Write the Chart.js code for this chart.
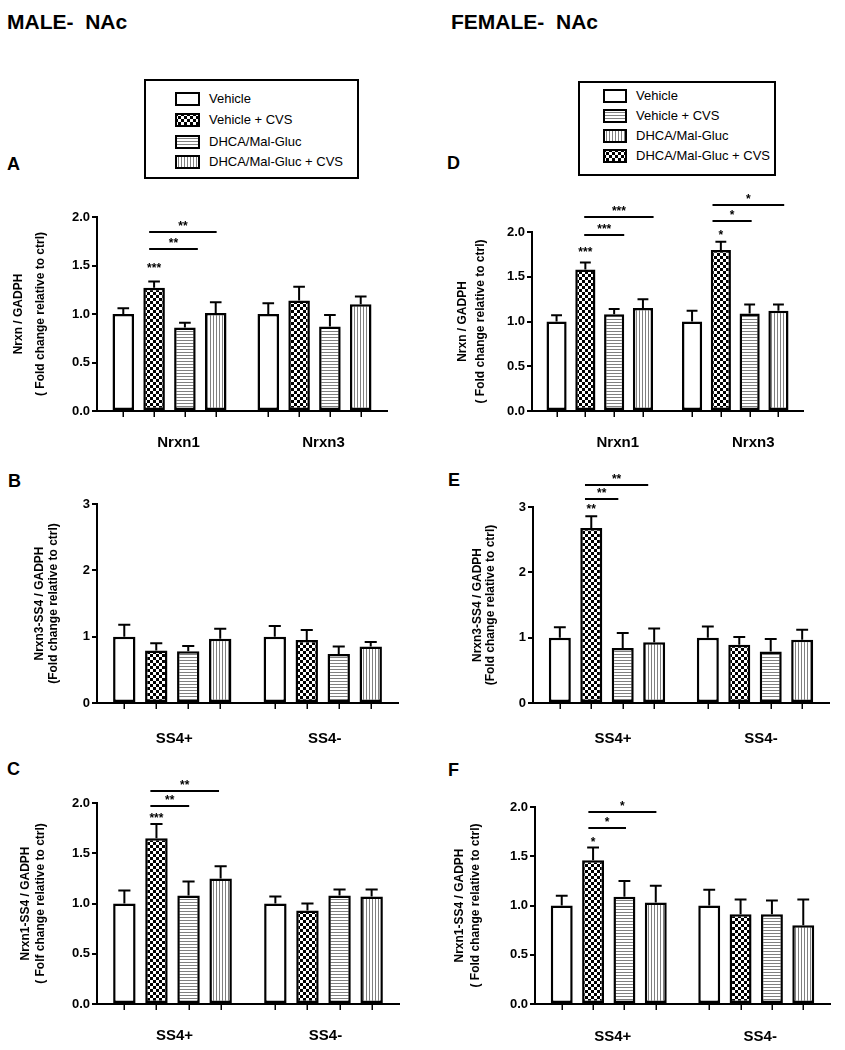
<!DOCTYPE html>
<html>
<head>
<meta charset="utf-8">
<script src="https://cdn.jsdelivr.net/npm/chart.js@4.4.1/dist/chart.umd.min.js"></script>
<style>
  body { margin: 0; background: #fff; width: 845px; height: 1050px; position: relative; overflow: hidden;
         font-family: 'Liberation Sans', Arial, sans-serif; color: #000; }
  .abs { position: absolute; }
  .head { font-weight: bold; font-size: 21px; line-height: 21px; white-space: pre; }
  .letter { font-weight: bold; font-size: 18px; line-height: 18px; }
  .legbox { border: 2px solid #000; box-sizing: border-box; }
  .legtxt { font-size: 13px; line-height: 14px; white-space: nowrap; }
  canvas.panel { position: absolute; }
</style>
</head>
<body>

<div class="abs head" style="left:7px;top:11px">MALE-  NAc</div>
<div class="abs head" style="left:451px;top:11px">FEMALE-  NAc</div>

<div class="abs letter" style="left:7px;top:155px">A</div>
<div class="abs letter" style="left:8px;top:472px">B</div>
<div class="abs letter" style="left:7px;top:760px">C</div>
<div class="abs letter" style="left:447px;top:154px">D</div>
<div class="abs letter" style="left:448px;top:471px">E</div>
<div class="abs letter" style="left:448px;top:761px">F</div>

<div class="abs legbox" style="left:144px;top:79px;width:215px;height:100px"></div>
<div class="abs legbox" style="left:578px;top:81px;width:198px;height:95px"></div>

<script>
'use strict';

// ---- data ----
const treatments = ['Vehicle', 'Vehicle + CVS', 'DHCA/Mal-Gluc', 'DHCA/Mal-Gluc + CVS'];
const geneLabels = ['Nrxn1', 'Nrxn3'];
const spliceLabels = ['SS4+', 'SS4-'];

// means and SEM, ordered: first category (4 treatments), then second category
const maleNrxnMean = [1.00, 1.27, 0.86, 1.01, 1.00, 1.14, 0.87, 1.10];
const maleNrxnSem  = [0.06, 0.065, 0.05, 0.11, 0.11, 0.14, 0.12, 0.08];
const maleSs4n3Mean = [1.00, 0.79, 0.78, 0.97, 1.00, 0.95, 0.74, 0.85];
const maleSs4n3Sem  = [0.18, 0.11, 0.08, 0.15, 0.16, 0.15, 0.11, 0.07];
const maleSs4n1Mean = [1.00, 1.65, 1.08, 1.25, 1.00, 0.93, 1.08, 1.07];
const maleSs4n1Sem  = [0.13, 0.14, 0.14, 0.12, 0.07, 0.07, 0.06, 0.07];
const femaleNrxnMean = [1.00, 1.58, 1.08, 1.15, 1.00, 1.80, 1.09, 1.12];
const femaleNrxnSem  = [0.07, 0.08, 0.06, 0.10, 0.12, 0.09, 0.10, 0.07];
const femaleSs4n3Mean = [1.00, 2.68, 0.84, 0.93, 1.00, 0.89, 0.79, 0.97];
const femaleSs4n3Sem  = [0.16, 0.18, 0.23, 0.21, 0.17, 0.12, 0.19, 0.15];
const femaleSs4n1Mean = [1.00, 1.46, 1.09, 1.03, 1.00, 0.91, 0.91, 0.80];
const femaleSs4n1Sem  = [0.10, 0.13, 0.16, 0.17, 0.16, 0.15, 0.14, 0.26];

const foldTicks = [0, 0.5, 1.0, 1.5, 2.0];
const wideTicks = [0, 1, 2, 3];

// significance bars: group, from/to in bar slots within the group, y value, label
const maleNrxnBrackets = [
  { group: 0, from: 0.84, to: 3.03, y: 1.845, text: '**' },
  { group: 0, from: 0.84, to: 2.42, y: 1.672, text: '**' },
];
const maleNrxnStars = [{ group: 0, bar: 1, y: 1.507, text: '***' }];
const maleSs4n1Brackets = [
  { group: 0, from: 0.81, to: 2.95, y: 2.12, text: '**' },
  { group: 0, from: 0.81, to: 2.02, y: 1.973, text: '**' },
];
const maleSs4n1Stars = [{ group: 0, bar: 1, y: 1.877, text: '***' }];
const femaleNrxnBrackets = [
  { group: 0, from: 0.96, to: 3.37, y: 2.164, text: '***' },
  { group: 0, from: 0.96, to: 2.35, y: 1.963, text: '***' },
  { group: 1, from: 0.71, to: 3.2, y: 2.303, text: '*' },
  { group: 1, from: 0.71, to: 2.07, y: 2.12, text: '*' },
];
const femaleNrxnStars = [
  { group: 0, bar: 1, y: 1.81, text: '***' },
  { group: 1, bar: 1, y: 2.0, text: '*' },
];
const femaleSs4n3Brackets = [
  { group: 0, from: 0.8, to: 2.81, y: 3.34, text: '**' },
  { group: 0, from: 0.8, to: 1.86, y: 3.116, text: '**' },
];
const femaleSs4n3Stars = [{ group: 0, bar: 1, y: 3.01, text: '**' }];
const femaleSs4n1Brackets = [
  { group: 0, from: 0.85, to: 3.02, y: 1.953, text: '*' },
  { group: 0, from: 0.85, to: 2.05, y: 1.787, text: '*' },
];
const femaleSs4n1Stars = [{ group: 0, bar: 1, y: 1.68, text: '*' }];

// ---- fills ----
function makePattern(kind) {
  const c = document.createElement('canvas');
  const g = c.getContext('2d');
  if (kind === 'checker') {
    c.width = 6; c.height = 6;
    g.fillStyle = '#fff'; g.fillRect(0, 0, 6, 6);
    g.fillStyle = '#000'; g.fillRect(0, 0, 3, 3); g.fillRect(3, 3, 3, 3);
  } else if (kind === 'horiz') {
    c.width = 4; c.height = 3;
    g.fillStyle = '#fff'; g.fillRect(0, 0, 4, 3);
    g.fillStyle = '#808080'; g.fillRect(0, 0, 4, 1);
  } else if (kind === 'vert') {
    c.width = 3; c.height = 4;
    g.fillStyle = '#fff'; g.fillRect(0, 0, 3, 4);
    g.fillStyle = '#808080'; g.fillRect(0, 0, 1, 4);
  } else {
    c.width = 2; c.height = 2;
    g.fillStyle = '#fff'; g.fillRect(0, 0, 2, 2);
  }
  return g.createPattern(c, 'repeat');
}

const barKinds = ['plain', 'checker', 'horiz', 'vert'];
const maleLegendKinds = ['plain', 'checker', 'horiz', 'vert'];
const femaleLegendKinds = ['plain', 'horiz', 'vert', 'checker'];

// ---- legends ----
function addLegend(kinds, swX, swW, txtX, rowsY) {
  treatments.forEach((name, i) => {
    const sw = document.createElement('canvas');
    sw.width = swW; sw.height = 14;
    sw.className = 'abs';
    sw.style.left = swX + 'px';
    sw.style.top = Math.round(rowsY[i] - 7) + 'px';
    const g = sw.getContext('2d');
    g.fillStyle = makePattern(kinds[i]);
    g.fillRect(0, 0, swW, 14);
    g.lineWidth = 2;
    g.strokeStyle = '#000';
    g.strokeRect(1, 1, swW - 2, 12);
    document.body.appendChild(sw);

    const t = document.createElement('div');
    t.className = 'abs legtxt';
    t.style.left = txtX + 'px';
    t.style.top = Math.round(rowsY[i] - 7) + 'px';
    t.textContent = name;
    document.body.appendChild(t);
  });
}
addLegend(maleLegendKinds, 175, 25, 209, [98.7, 120, 142.3, 162.3]);
addLegend(femaleLegendKinds, 603, 24, 636, [95.7, 115.7, 135.7, 156]);

// ---- overlay: error bars, tick marks under bars, significance marks ----
function overlayPlugin(sem, brackets, stars) {
  function barX(chart, group, pos) {
    const c0 = chart.getDatasetMeta(0).data[group].x;
    const c1 = chart.getDatasetMeta(1).data[group].x;
    return c0 + pos * (c1 - c0);
  }
  return {
    id: 'overlay',
    afterDatasetsDraw(chart) {
      const ctx = chart.ctx;
      const y = chart.scales.y;
      ctx.save();
      ctx.strokeStyle = '#000';
      ctx.lineWidth = 2;
      chart.data.datasets.forEach((ds, k) => {
        chart.getDatasetMeta(k).data.forEach((bar, g) => {
          const v = ds.data[g];
          const top = y.getPixelForValue(v + sem[g * 4 + k]);
          const half = bar.width * 0.27;
          ctx.beginPath();
          ctx.moveTo(bar.x, bar.y);
          ctx.lineTo(bar.x, top);
          ctx.moveTo(bar.x - half, top);
          ctx.lineTo(bar.x + half, top);
          ctx.stroke();
        });
      });
      ctx.restore();
    },
    afterDraw(chart) {
      const ctx = chart.ctx;
      const y = chart.scales.y;
      const bottom = chart.chartArea.bottom;
      ctx.save();
      ctx.strokeStyle = '#000';
      ctx.fillStyle = '#000';
      ctx.lineWidth = 1.5;
      chart.data.datasets.forEach((ds, k) => {
        chart.getDatasetMeta(k).data.forEach(bar => {
          ctx.beginPath();
          ctx.moveTo(Math.round(bar.x) + 0.25, bottom);
          ctx.lineTo(Math.round(bar.x) + 0.25, bottom + 6);
          ctx.stroke();
        });
      });
      ctx.font = 'bold 12px "Liberation Sans", Arial, sans-serif';
      ctx.textAlign = 'center';
      ctx.textBaseline = 'alphabetic';
      ctx.lineWidth = 2;
      brackets.forEach(b => {
        const x1 = barX(chart, b.group, b.from);
        const x2 = barX(chart, b.group, b.to);
        const py = Math.round(y.getPixelForValue(b.y));
        ctx.beginPath();
        ctx.moveTo(x1, py);
        ctx.lineTo(x2, py);
        ctx.stroke();
        ctx.fillText(b.text, (x1 + x2) / 2, py - 2);
      });
      stars.forEach(s => {
        const px = barX(chart, s.group, s.bar);
        const py = y.getPixelForValue(s.y);
        ctx.fillText(s.text, px, py + 7);
      });
      ctx.restore();
    }
  };
}

// ---- panels ----
const FONT = "'Liberation Sans', Arial, sans-serif";
const panels = [
  { left: 0, width: 420, axisX: 97, axisRight: 387, yTop: 217, yBottom: 411,
    labels: geneLabels, mean: maleNrxnMean, sem: maleNrxnSem, ticks: foldTicks, dec: 1,
    title: ['Nrxn / GADPH', '( Fold change relative to ctrl)'], titleX: 19, titleGap: 22,
    labelPad: 23, labelOffset: 9, brackets: maleNrxnBrackets, stars: maleNrxnStars },
  { left: 0, width: 420, axisX: 97, axisRight: 398, yTop: 504, yBottom: 703,
    labels: spliceLabels, mean: maleSs4n3Mean, sem: maleSs4n3Sem, ticks: wideTicks, dec: 0,
    title: ['Nrxn3-SS4 / GADPH', '(Fold change relative to ctrl)'], titleX: 40, titleGap: 13.5,
    labelPad: 27, labelOffset: 2, brackets: [], stars: [] },
  { left: 0, width: 420, axisX: 97, axisRight: 399, yTop: 803, yBottom: 1004,
    labels: spliceLabels, mean: maleSs4n1Mean, sem: maleSs4n1Sem, ticks: foldTicks, dec: 1,
    title: ['Nrxn1-SS4 / GADPH', '( Folf change relative to ctrl)'], titleX: 26, titleGap: 15,
    labelPad: 23, labelOffset: 2, brackets: maleSs4n1Brackets, stars: maleSs4n1Stars },
  { left: 420, width: 425, axisX: 532, axisRight: 803, yTop: 232, yBottom: 411,
    labels: geneLabels, mean: femaleNrxnMean, sem: femaleNrxnSem, ticks: foldTicks, dec: 1,
    title: ['Nrxn / GADPH', '( Fold change relative to ctrl)'], titleX: 42.8, titleGap: 17.7,
    labelPad: 23, labelOffset: 18, brackets: femaleNrxnBrackets, stars: femaleNrxnStars },
  { left: 420, width: 425, axisX: 533, axisRight: 829, yTop: 507, yBottom: 703,
    labels: spliceLabels, mean: femaleSs4n3Mean, sem: femaleSs4n3Sem, ticks: wideTicks, dec: 0,
    title: ['Nrxn3-SS4 / GADPH', '(Fold change relative to ctrl)'], titleX: 57.5, titleGap: 13.5,
    labelPad: 27, labelOffset: 6, brackets: femaleSs4n3Brackets, stars: femaleSs4n3Stars },
  { left: 420, width: 425, axisX: 535, axisRight: 830, yTop: 807, yBottom: 1004,
    labels: spliceLabels, mean: femaleSs4n1Mean, sem: femaleSs4n1Sem, ticks: foldTicks, dec: 1,
    title: ['Nrxn1-SS4 / GADPH', '( Fold change relative to ctrl)'], titleX: 40, titleGap: 16,
    labelPad: 24, labelOffset: 4, brackets: femaleSs4n1Brackets, stars: femaleSs4n1Stars },
];

const PAD_TOP = 60;
const X_AXIS_H = 50;

panels.forEach(p => {
  const canvas = document.createElement('canvas');
  canvas.className = 'panel';
  const top = p.yTop - PAD_TOP;
  const height = p.yBottom - top + X_AXIS_H;
  canvas.width = p.width;
  canvas.height = height;
  canvas.style.left = p.left + 'px';
  canvas.style.top = top + 'px';
  document.body.appendChild(canvas);

  const datasets = treatments.map((name, k) => ({
    label: name,
    data: p.labels.map((_, g) => p.mean[g * 4 + k]),
    backgroundColor: makePattern(barKinds[k]),
    borderColor: '#000',
    borderWidth: 2.5,
    borderSkipped: false,
    categoryPercentage: 0.85,
    barPercentage: 0.7,
  }));

  const yMax = p.ticks[p.ticks.length - 1];

  new Chart(canvas, {
    type: 'bar',
    data: { labels: p.labels, datasets },
    options: {
      responsive: false,
      animation: false,
      events: [],
      layout: { padding: { top: PAD_TOP, right: p.left + p.width - p.axisRight, left: 0, bottom: 0 } },
      plugins: { legend: { display: false }, tooltip: { enabled: false } },
      scales: {
        x: {
          grid: { display: false, drawTicks: false },
          border: { display: true, color: '#000', width: 2 },
          ticks: {
            color: '#000',
            padding: p.labelPad,
            labelOffset: p.labelOffset,
            font: { family: FONT, size: 15, weight: 'bold' },
          },
          afterFit: s => { s.height = X_AXIS_H; },
        },
        y: {
          min: 0,
          max: yMax,
          afterBuildTicks: s => { s.ticks = p.ticks.map(v => ({ value: v })); },
          grid: { drawOnChartArea: false, drawTicks: true, tickLength: 5, color: '#000', lineWidth: 2 },
          border: { display: true, color: '#000', width: 2 },
          ticks: {
            color: '#000',
            padding: 2,
            font: { family: FONT, size: 13, weight: 'bold' },
            callback: v => Number(v).toFixed(p.dec),
          },
          title: {
            display: true,
            text: p.title,
            color: '#000',
            font: { family: FONT, size: 12, weight: 'bold', lineHeight: p.titleGap / 12 },
            padding: { top: p.titleX - p.titleGap / 2, bottom: 0 },
          },
          afterFit: s => { s.width = p.axisX - p.left; },
        },
      },
    },
    plugins: [overlayPlugin(p.sem, p.brackets, p.stars)],
  });
});
</script>
</body>
</html>
